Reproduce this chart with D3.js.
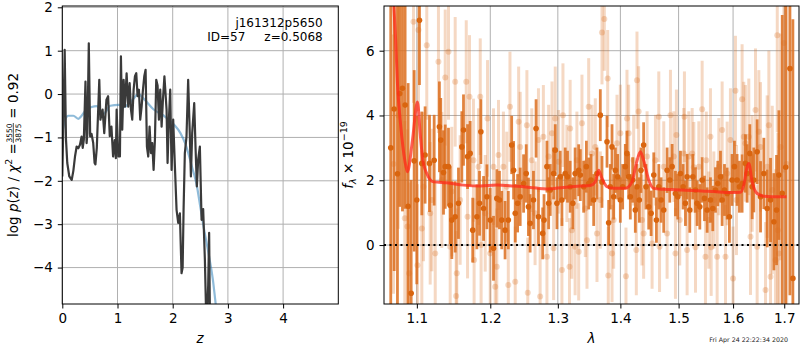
<!DOCTYPE html>
<meta charset="utf-8">
<style>
body { margin: 0; background: #fff; }
svg { font-family: "DejaVu Sans", sans-serif; }
.grid line { stroke: #b0b0b0; stroke-width: 1; }
.frame { fill: none; stroke: #000; stroke-width: 1; }
</style>

<svg width="800" height="350"></svg>

<script src="https://d3js.org/d3.v7.min.js"></script>
<script>

// ---- left panel: log p(z) ----
var pzZ = [0.000, 0.008, 0.043, 0.067, 0.090, 0.127, 0.170, 0.200, 0.230, 0.260, 0.290, 0.320, 0.350, 0.370, 0.390, 0.420, 0.440, 0.455, 0.480, 0.505,
  0.530, 0.560, 0.585, 0.600, 0.625, 0.670, 0.690, 0.730, 0.760, 0.800, 0.830, 0.860, 0.890, 0.920, 0.950, 0.970, 0.984, 1.014, 1.044, 1.062,
  1.086, 1.111, 1.135, 1.165, 1.195, 1.220, 1.244, 1.267, 1.292, 1.316, 1.340, 1.364, 1.388, 1.412, 1.437, 1.461, 1.485, 1.509, 1.533, 1.557,
  1.581, 1.606, 1.630, 1.654, 1.678, 1.702, 1.726, 1.750, 1.774, 1.799, 1.823, 1.850, 1.889, 1.907, 1.931, 1.955, 1.980, 2.009, 2.040, 2.070,
  2.100, 2.130, 2.160, 2.180, 2.197, 2.220, 2.250, 2.280, 2.306, 2.330, 2.353, 2.390, 2.415, 2.438, 2.462, 2.492, 2.523, 2.552, 2.583, 2.613,
  2.643, 2.660, 2.680];
var pzLog = [-1.90, -1.40, 1.02, -1.05, -1.59, -1.90, -1.98, -1.77, -1.44, -1.21, -1.25, -1.17, -0.98, -1.24, -1.05, 0.29, -1.13, -0.90, 1.17, -0.98,
  -0.92, -1.13, -1.59, -1.62, -1.24, 0.33, -0.59, -0.36, -0.90, -0.13, -0.05, -0.97, -0.75, -1.44, -1.06, -1.48, -0.36, -1.44, -1.44, 0.87,
  -0.82, 0.33, -0.29, 0.48, -0.29, 0.25, -0.36, -0.59, 0.10, 0.41, 0.48, -0.05, 0.10, -0.59, -0.29, 0.10, 0.41, 0.56, -1.21, -1.44,
  -0.75, -1.36, -1.13, -1.75, -1.05, 0.33, 0.20, -0.59, 0.10, -0.75, -0.13, 0.41, -0.36, -1.59, -0.59, 0.10, -1.75, -0.59, -1.67, -2.67,
  -2.97, -2.75, -4.13, -4.00, -2.67, -1.36, -0.98, 0.33, -0.75, -1.90, -0.90, -0.21, -1.28, -2.13, -1.50, -1.21, -2.90, -2.65, -3.82, -5.50,
  -4.40, -3.20, -5.80];

var priorZ = [0.00, 0.05, 0.11, 0.20, 0.29, 0.35, 0.44, 0.53, 0.62, 0.75, 0.87, 1.02, 1.11, 1.26, 1.38, 1.47, 1.65, 1.84, 2.02, 2.14,
  2.23, 2.35, 2.44, 2.50, 2.56, 2.65, 2.73, 2.78, 2.85];
var priorLog = [-0.90, -0.60, -0.50, -0.50, -0.57, -0.50, -0.35, -0.30, -0.28, -0.45, -0.27, -0.25, -0.30, -0.15, 0.00, -0.10, -0.35, -0.50, -0.70, -0.90,
  -1.15, -1.68, -2.13, -2.60, -3.06, -3.68, -4.30, -4.85, -5.50];

var zTicks = [0, 1, 2, 3, 4];
var pzTicks = [-4, -3, -2, -1, 0, 1, 2];

// ---- right panel: spectrum ----
var darkWave = [1.0665, 1.0708, 1.0750, 1.0779, 1.0814, 1.0848, 1.0887, 1.0926, 1.0965, 1.0999, 1.1034, 1.1065, 1.1108, 1.1166, 1.1228, 1.1298, 1.1316, 1.1353, 1.1376, 1.1420,
  1.1443, 1.1465, 1.1511, 1.1556, 1.1602, 1.1625, 1.1681, 1.1717, 1.1753, 1.1811, 1.1848, 1.1867, 1.1905, 1.1952, 1.1999, 1.2046, 1.2093, 1.2131, 1.2164, 1.2212,
  1.2259, 1.2308, 1.2336, 1.2360, 1.2395, 1.2433, 1.2483, 1.2522, 1.2555, 1.2580, 1.2630, 1.2669, 1.2705, 1.2769, 1.2789, 1.2833, 1.2859, 1.2884, 1.2935, 1.2960,
  1.2986, 1.3037, 1.3063, 1.3114, 1.3150, 1.3191, 1.3233, 1.3269, 1.3325, 1.3351, 1.3404, 1.3447, 1.3484, 1.3521, 1.3564, 1.3617, 1.3671, 1.3698, 1.3780, 1.3807,
  1.3834, 1.3862, 1.3889, 1.3917, 1.3955, 1.3999, 1.4038, 1.4082, 1.4110, 1.4138, 1.4166, 1.4205, 1.4250, 1.4278, 1.4318, 1.4346, 1.4391, 1.4431, 1.4478, 1.4519,
  1.4565, 1.4611, 1.4652, 1.4692, 1.4738, 1.4797, 1.4844, 1.4885, 1.4944, 1.4985, 1.5032, 1.5080, 1.5122, 1.5152, 1.5200, 1.5255, 1.5303, 1.5333, 1.5382, 1.5424,
  1.5467, 1.5516, 1.5577, 1.5620, 1.5670, 1.5713, 1.5763, 1.5794, 1.5838, 1.5888, 1.5931, 1.5981, 1.6026, 1.6076, 1.6121, 1.6172, 1.6236, 1.6269, 1.6321, 1.6366,
  1.6398, 1.6463, 1.6529, 1.6594, 1.6660, 1.6726, 1.6793, 1.6846, 1.6893, 1.6960, 1.7030, 1.7115, 1.7175];
var darkFlux = [3.00, 4.20, 2.20, 4.68, 4.84, 4.32, 1.20, -1.49, 2.60, 1.39, 6.94, 2.52, 2.78, 2.52, 2.62, 3.65, 3.24, 2.24, 2.42, 2.42,
  1.23, 0.77, 0.87, 1.29, 3.03, 3.55, 2.73, 2.83, 0.46, 0.87, 1.29, 3.50, 1.13, 1.49, 0.77, -0.10, 1.44, 1.39, 0.77, 0.46,
  0.77, 3.09, 2.31, 0.98, 1.29, 1.49, 1.90, 2.21, 1.18, 0.67, 1.39, 3.60, 0.87, 0.36, 0.77, 2.42, 1.29, 1.70, 2.21, 2.93,
  1.29, 2.11, 1.39, 2.21, 2.11, 1.80, 1.29, 2.21, 2.31, 2.16, 1.80, 2.42, 1.90, 2.01, 1.39, 2.21, 4.01, 1.95, 3.19, 0.69,
  1.80, 3.03, 1.49, 2.31, 2.11, 1.39, 1.80, 2.42, 2.83, 2.11, 1.49, 2.01, 1.08, 1.80, 1.39, 2.31, 3.09, 1.80, 1.18, 0.98,
  2.16, 0.77, 1.80, 1.39, 1.08, 2.31, 2.01, 2.42, 1.59, 1.49, 2.21, 1.80, 1.29, 2.11, 1.08, 2.11, 1.70, 1.29, 1.18, 2.01,
  1.44, 1.08, 1.39, 1.13, 1.70, 1.90, 2.11, 1.39, 1.70, 1.59, 0.87, 2.01, 2.42, 2.01, 1.80, 1.90, 2.52, 2.21, 2.83, 1.80,
  2.01, 2.88, 1.49, 2.21, 1.13, 1.39, 0.72, 1.08, 2.16, 1.60, 2.40, 5.45, -1.03];
var darkErr = [6.0, 5.0, 5.5, 3.5, 3.8, 3.2, 3.8, 3.5, 2.8, 2.6, 2.0, 1.6, 1.5, 1.5, 1.4, 1.4, 1.3, 1.3, 1.3, 1.2,
  1.2, 1.2, 1.1, 1.1, 1.1, 1.1, 1.0, 1.0, 1.0, 1.0, 1.0, 1.0, 1.0, 1.0, 1.0, 1.0, 0.9, 0.9, 0.9, 0.9,
  0.9, 0.9, 0.9, 0.9, 0.9, 0.9, 0.9, 0.9, 0.9, 0.9, 0.9, 0.9, 0.9, 0.8, 0.8, 0.8, 0.8, 0.8, 0.8, 0.8,
  0.8, 0.8, 0.8, 0.8, 0.8, 0.8, 0.8, 0.8, 0.8, 0.8, 0.8, 0.8, 0.8, 0.8, 0.8, 0.8, 0.8, 0.8, 0.8, 0.7,
  0.7, 0.7, 0.7, 0.7, 0.7, 0.7, 0.7, 0.7, 0.7, 0.7, 0.7, 0.7, 0.7, 0.7, 0.7, 0.7, 0.7, 0.7, 0.7, 0.7,
  0.7, 0.7, 0.7, 0.7, 0.7, 0.7, 0.7, 0.7, 0.7, 0.7, 0.7, 0.7, 0.7, 0.7, 0.7, 0.7, 0.7, 0.7, 0.7, 0.7,
  0.7, 0.7, 0.7, 0.7, 0.7, 0.7, 0.8, 0.8, 0.8, 0.8, 0.8, 0.8, 0.8, 0.8, 0.8, 0.9, 0.9, 0.9, 0.9, 1.0,
  1.0, 1.0, 1.1, 1.1, 1.2, 1.3, 1.5, 1.7, 2.0, 5.5, 6.0, 7.0, 8.0];

var lightWave = [1.0700, 1.0760, 1.0844, 1.0878, 1.0900, 1.0956, 1.1008, 1.1021, 1.1065, 1.1087, 1.1130, 1.1175, 1.1197, 1.1242, 1.1285, 1.1330, 1.1376, 1.1420, 1.1443, 1.1465,
  1.1511, 1.1524, 1.1533, 1.1579, 1.1663, 1.1681, 1.1708, 1.1763, 1.1772, 1.1834, 1.1858, 1.1870, 1.1928, 1.1961, 1.1999, 1.2046, 1.2070, 1.2093, 1.2117, 1.2188,
  1.2236, 1.2259, 1.2283, 1.2360, 1.2410, 1.2433, 1.2532, 1.2545, 1.2605, 1.2654, 1.2705, 1.2730, 1.2779, 1.2833, 1.2859, 1.2910, 1.2935, 1.2960, 1.3012, 1.3063,
  1.3079, 1.3140, 1.3181, 1.3191, 1.3217, 1.3269, 1.3297, 1.3325, 1.3377, 1.3430, 1.3457, 1.3484, 1.3537, 1.3590, 1.3617, 1.3671, 1.3698, 1.3736, 1.3791, 1.3800,
  1.3862, 1.3889, 1.3944, 1.3999, 1.4093, 1.4110, 1.4138, 1.4222, 1.4267, 1.4278, 1.4306, 1.4363, 1.4391, 1.4450, 1.4536, 1.4594, 1.4652, 1.4665, 1.4738, 1.4797,
  1.4856, 1.4915, 1.4944, 1.4961, 1.5020, 1.5092, 1.5104, 1.5152, 1.5182, 1.5243, 1.5273, 1.5303, 1.5364, 1.5424, 1.5485, 1.5500, 1.5546, 1.5577, 1.5590, 1.5639,
  1.5701, 1.5732, 1.5794, 1.5857, 1.5888, 1.5950, 1.6000, 1.6045, 1.6064, 1.6172, 1.6204, 1.6236, 1.6301, 1.6334, 1.6366, 1.6431, 1.6463, 1.6496, 1.6529, 1.6627,
  1.6660, 1.6693, 1.6726, 1.6760, 1.6826, 1.6860, 1.6870, 1.6893, 1.6926, 1.6993, 1.7050];
var lightFlux = [2.50, 4.00, 0.83, 0.57, -0.87, 6.89, -0.62, 6.64, 0.51, 1.80, 6.17, 0.98, 1.39, -0.26, 5.66, 2.01, 5.17, 5.97, -0.05, 1.65,
  5.04, -1.57, -0.87, 1.39, 5.04, 0.87, 4.58, 2.62, -0.46, 2.42, 4.58, 0.00, 0.98, 3.91, -0.26, 2.42, -1.29, -0.67, 2.78, 2.42,
  1.80, -1.23, 4.27, -1.13, 3.81, 3.03, 3.70, -1.47, 2.62, 0.98, 3.24, -1.59, 3.34, -0.36, 2.73, 3.45, -0.10, 3.91, 2.57, -0.77,
  4.01, 2.21, -0.67, 3.60, 0.46, -0.05, 2.62, -0.21, 3.76, 1.13, 0.15, 4.27, 2.83, 3.03, 0.36, 1.39, 6.56, 6.98, 5.14, -0.94,
  -0.26, 0.77, 3.14, 3.45, -0.96, 3.91, 3.45, 2.62, -0.15, 5.09, 4.12, 0.77, 0.36, 2.73, 0.05, 2.62, 3.96, -0.05, 2.42, 0.36,
  4.01, 2.73, -0.26, 3.40, 0.77, 2.83, 3.96, -0.15, 2.73, 2.83, 2.40, -0.07, 2.42, 4.19, -0.36, 2.62, 0.77, 3.34, -0.07, 1.39,
  -0.36, 2.42, 3.55, -0.36, 2.21, 3.24, -1.03, 4.76, 1.39, 4.50, 3.34, 3.14, 3.34, 0.26, 2.21, 4.17, -0.05, 3.50, 3.03, -1.39,
  2.42, 3.70, -0.98, 1.70, -0.46, 6.48, 0.46, -0.26, 3.03, 6.24, 2.50];
var lightErr = [4.0, 3.5, 3.0, 3.0, 2.8, 2.5, 2.5, 2.5, 2.4, 2.3, 2.3, 2.2, 2.2, 2.2, 2.2, 2.1, 2.1, 2.1, 2.0, 2.0,
  2.0, 2.0, 2.0, 2.0, 1.9, 1.9, 1.9, 1.9, 1.9, 1.8, 1.8, 1.8, 1.8, 1.8, 1.8, 1.8, 1.8, 1.8, 1.7, 1.7,
  1.7, 1.7, 1.7, 1.7, 1.7, 1.7, 1.7, 1.7, 1.6, 1.6, 1.6, 1.6, 1.6, 1.6, 1.6, 1.6, 1.6, 1.6, 1.6, 1.6,
  1.6, 1.5, 1.5, 1.5, 1.5, 1.5, 1.5, 1.5, 1.5, 1.5, 1.5, 1.5, 1.5, 1.5, 1.5, 1.5, 1.6, 1.6, 1.5, 1.5,
  1.5, 1.5, 1.5, 1.5, 1.5, 1.5, 1.5, 1.4, 1.4, 1.5, 1.4, 1.4, 1.4, 1.4, 1.4, 1.4, 1.4, 1.4, 1.4, 1.4,
  1.4, 1.4, 1.4, 1.4, 1.4, 1.4, 1.4, 1.4, 1.4, 1.4, 1.4, 1.4, 1.4, 1.5, 1.5, 1.5, 1.5, 1.5, 1.5, 1.5,
  1.5, 1.5, 1.5, 1.6, 1.6, 1.6, 1.6, 1.7, 1.7, 1.7, 1.7, 1.8, 1.8, 1.8, 1.8, 1.9, 1.9, 1.9, 2.0, 2.1,
  2.2, 2.3, 2.4, 2.6, 2.8, 3.0, 3.0, 3.2, 3.5, 4.0, 5.0];

var modelWave = [1.0700, 1.0726, 1.0750, 1.0793, 1.0844, 1.0878, 1.0943, 1.1008, 1.1043, 1.1078, 1.1130, 1.1220, 1.1398, 1.1625, 1.1858, 1.2093, 1.2336, 1.2580, 1.2833, 1.3089,
  1.3351, 1.3510, 1.3590, 1.3644, 1.3698, 1.3780, 1.3889, 1.4082, 1.4194, 1.4267, 1.4335, 1.4391, 1.4478, 1.4565, 1.4738, 1.5032, 1.5333, 1.5639, 1.5950, 1.6140,
  1.6204, 1.6269, 1.6301, 1.6366, 1.6463, 1.6594, 1.6926, 1.7046];
var modelFlux = [7.60, 6.38, 4.99, 3.65, 2.62, 2.26, 3.24, 4.42, 3.45, 2.62, 2.21, 1.95, 1.92, 1.85, 1.82, 1.85, 1.82, 1.78, 1.73, 1.78,
  1.82, 1.84, 1.95, 2.31, 2.06, 1.80, 1.75, 1.75, 1.95, 2.52, 2.88, 2.62, 2.01, 1.75, 1.72, 1.70, 1.68, 1.65, 1.62, 1.63,
  1.85, 2.42, 2.52, 1.95, 1.59, 1.51, 1.49, 1.49];

var waveTicks = [1.1, 1.2, 1.3, 1.4, 1.5, 1.6, 1.7];
var fluxTicks = [0, 2, 4, 6];

var svg = d3.select("svg");
var orange = "#d9650f";

// scales
var xz = d3.scaleLinear().domain([0, 5]).range([62.3, 338.3]);
var yp = d3.scaleLinear().domain([-4.84, 2.03]).range([304, 6]);
var xw = d3.scaleLog().domain([1.058, 1.730]).range([384, 799]);
var yf = d3.scaleLinear().domain([-1.82, 7.38]).range([304, 6]);

var defs = svg.append("defs");
defs.append("clipPath").attr("id", "clipL").append("rect")
    .attr("x", 62.3).attr("y", 6).attr("width", 276).attr("height", 298);
defs.append("clipPath").attr("id", "clipR").append("rect")
    .attr("x", 384).attr("y", 6).attr("width", 415).attr("height", 298);

function grid(xs, ys, xt, yt) {
  var g = svg.append("g").attr("class", "grid");
  g.selectAll(".gx").data(xt).enter().append("line")
      .attr("x1", d => xs(d)).attr("x2", d => xs(d))
      .attr("y1", ys.range()[0]).attr("y2", ys.range()[1]);
  g.selectAll(".gy").data(yt).enter().append("line")
      .attr("y1", d => ys(d)).attr("y2", d => ys(d))
      .attr("x1", xs.range()[0]).attr("x2", xs.range()[1]);
}

function axes(xs, ys, xt, yt, xfmt) {
  var gx = svg.append("g").attr("transform", "translate(0," + ys.range()[0] + ")")
      .call(d3.axisBottom(xs).tickValues(xt).tickSize(4.5).tickPadding(5).tickFormat(xfmt));
  var gy = svg.append("g").attr("transform", "translate(" + xs.range()[0] + ",0)")
      .call(d3.axisLeft(ys).tickValues(yt).tickSize(4.5).tickPadding(5).tickFormat(d3.format("d")));
  [gx, gy].forEach(function(g) {
    g.select(".domain").remove();
    g.attr("font-family", "DejaVu Sans").attr("font-size", 13.5);
    g.selectAll(".tick line").attr("stroke", "#000");
    g.selectAll(".tick text").attr("fill", "#000");
  });
  svg.append("rect").attr("class", "frame")
      .attr("x", xs.range()[0]).attr("y", ys.range()[1])
      .attr("width", xs.range()[1] - xs.range()[0])
      .attr("height", ys.range()[0] - ys.range()[1]);
}

// ---------- left panel ----------
grid(xz, yp, zTicks, pzTicks);

var lineL = svg.append("g").attr("clip-path", "url(#clipL)");
lineL.append("path")
    .datum(d3.range(priorZ.length))
    .attr("fill", "none")
    .attr("stroke", "#1f77b4").attr("stroke-opacity", 0.5).attr("stroke-width", 2.2)
    .attr("d", d3.line().curve(d3.curveMonotoneX).x(i => xz(priorZ[i])).y(i => yp(priorLog[i])));
lineL.append("path")
    .datum(d3.range(pzZ.length))
    .attr("fill", "none")
    .attr("stroke", "#3a3a3a").attr("stroke-width", 2.2).attr("stroke-linejoin", "round")
    .attr("d", d3.line().x(i => xz(pzZ[i])).y(i => yp(pzLog[i])));

axes(xz, yp, zTicks, pzTicks, d3.format("d"));

svg.append("text").attr("x", 322.7).attr("y", 27).attr("text-anchor", "end")
    .attr("font-size", 12).text("j161312p5650");
svg.append("text").attr("x", 322.7).attr("y", 41).attr("text-anchor", "end")
    .attr("font-size", 12).style("white-space", "pre").text("ID=57     z=0.5068");

svg.append("text").attr("x", 200).attr("y", 343).attr("text-anchor", "middle")
    .attr("font-size", 13.5).attr("font-style", "italic").text("z");

// y label with stacked fraction
var ylab = svg.append("g").attr("transform", "translate(17.5,155) rotate(-90)");
var t1 = ylab.append("text").attr("font-size", 13.5).attr("x", 0).attr("y", 0);
t1.append("tspan").text("log ");
t1.append("tspan").attr("font-style", "italic").text("p");
t1.append("tspan").text("(");
t1.append("tspan").attr("font-style", "italic").text("z");
t1.append("tspan").text(") / ");
t1.append("tspan").attr("font-style", "italic").text("χ");
t1.append("tspan").attr("font-size", 9.5).attr("dy", -5.5).text("2");
t1.append("tspan").attr("dy", 5.5).text(" = ");
var w1 = t1.node().getComputedTextLength();
var num = ylab.append("text").attr("font-size", 7.5).attr("text-anchor", "middle").attr("y", -5.6).text("3550");
var den = ylab.append("text").attr("font-size", 7.5).attr("text-anchor", "middle").attr("y", 3.6).text("3875");
var wf = Math.max(num.node().getComputedTextLength(), den.node().getComputedTextLength()) + 1;
num.attr("x", w1 + wf / 2);
den.attr("x", w1 + wf / 2);
ylab.append("line").attr("x1", w1).attr("x2", w1 + wf)
    .attr("y1", -4.2).attr("y2", -4.2).attr("stroke", "#000").attr("stroke-width", 0.7);
var t2 = ylab.append("text").attr("font-size", 13.5).attr("x", w1 + wf)
    .style("white-space", "pre").text(" = 0.92");
var wt = w1 + wf + t2.node().getComputedTextLength();
ylab.selectAll("text, line").attr("transform", "translate(" + (-wt / 2) + ",0)");

// ---------- right panel ----------
grid(xw, yf, waveTicks, fluxTicks);

var plotR = svg.append("g").attr("clip-path", "url(#clipR)");

var lightIdx = d3.range(lightWave.length);
plotR.append("g").selectAll("line").data(lightIdx).enter().append("line")
    .attr("x1", i => xw(lightWave[i])).attr("x2", i => xw(lightWave[i]))
    .attr("y1", i => yf(lightFlux[i] - lightErr[i])).attr("y2", i => yf(lightFlux[i] + lightErr[i]))
    .attr("stroke", orange).attr("stroke-opacity", 0.25).attr("stroke-width", 3);
plotR.append("g").selectAll("circle").data(lightIdx).enter().append("circle")
    .attr("cx", i => xw(lightWave[i])).attr("cy", i => yf(lightFlux[i])).attr("r", 3)
    .attr("fill", orange).attr("fill-opacity", 0.25);

var darkIdx = d3.range(darkWave.length);
plotR.append("g").selectAll("line").data(darkIdx).enter().append("line")
    .attr("x1", i => xw(darkWave[i])).attr("x2", i => xw(darkWave[i]))
    .attr("y1", i => yf(darkFlux[i] - darkErr[i])).attr("y2", i => yf(darkFlux[i] + darkErr[i]))
    .attr("stroke", "#dc6e1e").attr("stroke-opacity", 0.85).attr("stroke-width", 2.8);
plotR.append("g").selectAll("circle").data(darkIdx).enter().append("circle")
    .attr("cx", i => xw(darkWave[i])).attr("cy", i => yf(darkFlux[i])).attr("r", 2.8)
    .attr("fill", orange);

plotR.append("line")
    .attr("x1", 384).attr("x2", 799).attr("y1", yf(0)).attr("y2", yf(0))
    .attr("stroke", "#000").attr("stroke-width", 2).attr("stroke-dasharray", "2,3.5");

plotR.append("path")
    .datum(d3.range(modelWave.length))
    .attr("fill", "none")
    .attr("stroke", "#ff2a1a").attr("stroke-opacity", 0.75).attr("stroke-width", 3)
    .attr("stroke-linejoin", "round")
    .attr("d", d3.line().curve(d3.curveMonotoneX).x(i => xw(modelWave[i])).y(i => yf(modelFlux[i])));

axes(xw, yf, waveTicks, fluxTicks, d3.format(".1f"));

svg.append("text").attr("x", 591.5).attr("y", 343).attr("text-anchor", "middle")
    .attr("font-size", 13.5).attr("font-style", "italic").text("λ");

var ylabR = svg.append("text").attr("transform", "translate(352.5,155) rotate(-90)")
    .attr("text-anchor", "middle").attr("font-size", 13.5);
ylabR.append("tspan").attr("font-style", "italic").text("f");
ylabR.append("tspan").attr("font-style", "italic").attr("font-size", 9.5).attr("dy", 3).text("λ");
ylabR.append("tspan").attr("dy", -3).text(" × 10");
ylabR.append("tspan").attr("font-size", 9.5).attr("dy", -5.5).text("−19");

svg.append("text").attr("x", 788).attr("y", 342).attr("text-anchor", "end")
    .attr("font-size", 6.3).attr("fill", "#222").text("Fri Apr 24 22:22:34 2020");

</script>
